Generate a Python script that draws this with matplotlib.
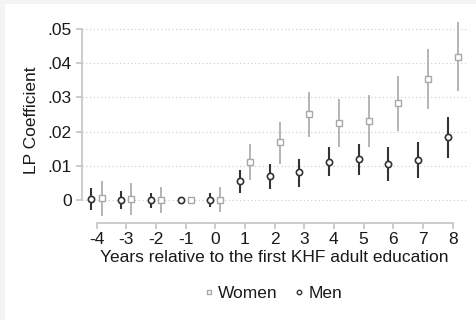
import matplotlib
matplotlib.use("Agg")
import matplotlib.pyplot as plt
from matplotlib.lines import Line2D
from matplotlib.patches import Rectangle

plt.rcParams['font.family'] = ['Liberation Sans', 'DejaVu Sans']

years = [-4, -3, -2, -1, 0, 1, 2, 3, 4, 5, 6, 7, 8]

men_coef = [0.0002, 0.0000, 0.0000, 0.0000, 0.0000, 0.0056, 0.0070, 0.0081,
            0.0112, 0.0119, 0.0106, 0.0118, 0.0183]
men_lo = [-0.0029, -0.0027, -0.0024, 0.0000, -0.0021, 0.0022, 0.0032, 0.0039,
          0.0070, 0.0073, 0.0056, 0.0065, 0.0124]
men_hi = [0.0034, 0.0027, 0.0021, 0.0000, 0.0021, 0.0088, 0.0105, 0.0120,
          0.0156, 0.0164, 0.0154, 0.0170, 0.0242]

women_coef = [0.0005, 0.0003, 0.0000, 0.0000, 0.0000, 0.0112, 0.0169, 0.0251,
              0.0226, 0.0232, 0.0284, 0.0353, 0.0418]
women_lo = [-0.0047, -0.0044, -0.0039, 0.0000, -0.0034, 0.0058, 0.0107, 0.0185,
            0.0156, 0.0156, 0.0203, 0.0265, 0.0320]
women_hi = [0.0056, 0.0050, 0.0039, 0.0000, 0.0037, 0.0164, 0.0229, 0.0317,
            0.0296, 0.0306, 0.0363, 0.0441, 0.0520]

y_ticks = [0, 0.01, 0.02, 0.03, 0.04, 0.05]
y_labels = ["0", ".01", ".02", ".03", ".04", ".05"]

men_color = "#333333"
women_color = "#a8a8a8"
shift = 0.17

fig = plt.figure(figsize=(4.76, 3.20), dpi=100)

# faint strips along the top and left edges of the canvas
fig.patches.append(Rectangle((0, 0), 5 / 476, 1, transform=fig.transFigure,
                             facecolor="#f4f4f4", edgecolor="none", zorder=0))
fig.patches.append(Rectangle((0, 1 - 4 / 320), 1, 4 / 320, transform=fig.transFigure,
                             facecolor="#f4f4f4", edgecolor="none", zorder=0))

ax = fig.add_axes([0.1716, 0.304, 0.8105, 0.6375])
ax.patch.set_alpha(0)

for v in y_ticks:
    ax.axhline(v, color="#d0d0d0", lw=0.9, ls=(0, (1, 2)), zorder=0)

xm = [x - shift for x in years]
xw = [x + shift for x in years]

ax.vlines(xw, women_lo, women_hi, color=women_color, lw=1.2, zorder=2)
ax.plot(xw, women_coef, ls="none", marker="s", ms=5, mfc="white",
        mec=women_color, mew=1.0, zorder=3)

ax.vlines(xm, men_lo, men_hi, color=men_color, lw=1.5, zorder=2)
ax.plot(xm, men_coef, ls="none", marker="o", ms=4.5, mfc="white",
        mec=men_color, mew=1.2, zorder=3)

ax.set_xlim(-4.5, 8.5)
ax.set_ylim(-0.0066, 0.053)

ax.set_xticks(years)
ax.set_xticklabels([str(y) for y in years])
ax.set_yticks(y_ticks)
ax.set_yticklabels(y_labels)

for s in ["top", "right"]:
    ax.spines[s].set_visible(False)
for s in ["left", "bottom"]:
    ax.spines[s].set_color("#c4c4c4")
    ax.spines[s].set_linewidth(1.2)
ax.spines["left"].set_bounds(0, 0.05)
ax.spines["bottom"].set_bounds(-4, 8)

ax.tick_params(axis="both", colors="#c4c4c4", labelcolor="#1a1a1a",
               labelsize=12.5, length=4, width=1.2)
ax.tick_params(axis="y", pad=3)
ax.tick_params(axis="x", pad=3)

ax.set_xlabel("Years relative to the first KHF adult education",
              fontsize=12.5, color="#1a1a1a", labelpad=2)
ax.set_ylabel("LP Coefficient", fontsize=12.5, color="#1a1a1a", labelpad=6)

handles = [
    Line2D([], [], ls="none", marker="s", ms=3.5, mfc="white",
           mec=women_color, mew=1.0, label="Women"),
    Line2D([], [], ls="none", marker="o", ms=3.2, mfc="white",
           mec=men_color, mew=1.0, label="Men"),
]
fig.legend(handles=handles, loc="center", bbox_to_anchor=(0.575, 0.083),
           ncol=2, frameon=False, fontsize=12.5, handlelength=0.4,
           handletextpad=0.35, columnspacing=1.0, labelcolor="#1a1a1a")

fig.savefig("out.png", dpi=100)
